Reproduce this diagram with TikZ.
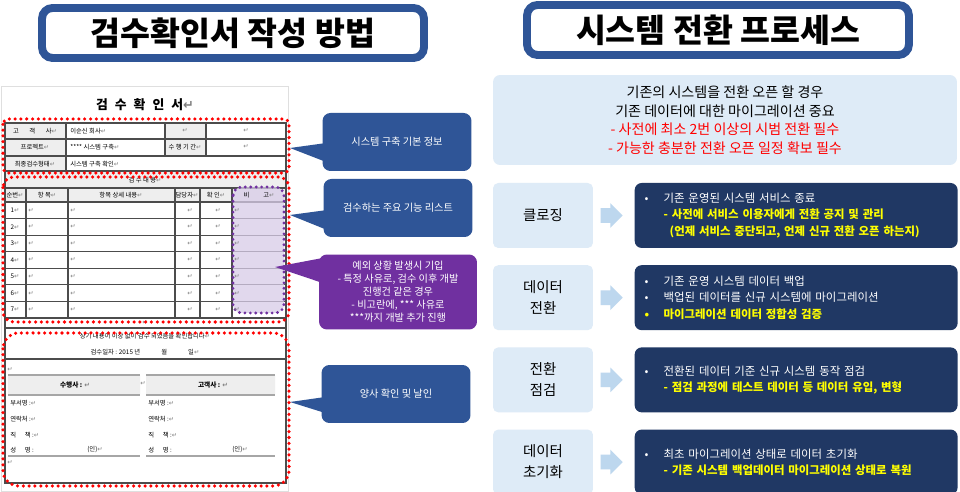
\documentclass[tikz,border=0pt]{standalone}
\usepackage{fontspec}
\setmainfont{Noto Sans CJK KR}
\newfontfamily\arrowfont{DejaVu Sans}
\usetikzlibrary{shapes.arrows,positioning,calc}

\definecolor{titleblue}{RGB}{47,85,151}
\definecolor{calloutblue}{RGB}{47,85,151}
\definecolor{navy}{RGB}{32,56,100}
\definecolor{paleblue}{RGB}{222,235,247}
\definecolor{arrowblue}{RGB}{189,215,238}
\definecolor{notepurple}{RGB}{112,48,160}
\definecolor{lavender}{RGB}{216,204,232}
\definecolor{cellgray}{RGB}{238,238,238}
\definecolor{hiyellow}{RGB}{255,255,0}

\newcommand{\crmark}{{\arrowfont\color{gray}↵}}

\begin{document}
\begin{tikzpicture}[x=0.02cm, y=-0.02cm,
    titlebox/.style={draw=titleblue, line width=4.5pt, rounded corners=6pt, fill=white,
      minimum width=7.64cm, minimum height=1cm, font=\fontsize{18.5}{20}\selectfont\bfseries},
    grid/.style={draw=gray!60!black, line width=0.6pt},
    sigline/.style={draw=gray!70, line width=1.2pt},
    formtxt/.style={font=\fontsize{3.6}{4.5}\selectfont, inner sep=0pt},
    reddots/.style={draw=red, line width=2pt, dash pattern=on 0pt off 3.3pt, line cap=round},
    purpledots/.style={draw=notepurple, line width=1.8pt, dash pattern=on 0pt off 3.1pt, line cap=round},
    callout/.style={fill=calloutblue, rounded corners=4.5pt, text=white,
      font=\fontsize{5.8}{7.4}\selectfont, align=center, minimum width=2.98cm, minimum height=1.16cm},
    intro/.style={fill=paleblue, rounded corners=4pt, minimum width=9.28cm, minimum height=1.8cm,
      align=center, font=\fontsize{8}{10.6}\selectfont},
    stepbox/.style={fill=paleblue, rounded corners=3pt, minimum width=2cm, minimum height=1.3cm,
      font=\fontsize{8.2}{12}\selectfont, align=center},
    detail/.style={fill=navy, rounded corners=4pt, minimum width=6.46cm, minimum height=1.3cm,
      text width=6.06cm, inner xsep=0.2cm, align=left, text=white, font=\fontsize{6.5}{9.2}\selectfont},
    flowarrow/.style={single arrow, fill=arrowblue, draw=none, inner xsep=0pt, inner ysep=0.14cm,
      minimum height=0.44cm, single arrow head extend=0.1cm, single arrow head indent=0pt},
  ]
\useasboundingbox (0,0) rectangle (960,492);
\fill[white] (0,0) rectangle (960,492);

% Titles
\node[titlebox] (docTitle) at (233,33) {검수확인서 작성 방법};
\node[titlebox] (procTitle) at (718,30) {시스템 전환 프로세스};

% Acceptance form (scan)
\draw[gray!25] (1,86) rectangle (288,491);
\node[formtxt, font=\fontsize{7.3}{9}\selectfont\bfseries] (formTitle) at (145,105)
  {검\hspace{4pt}수\hspace{4pt}확\hspace{4pt}인\hspace{4pt}서\crmark};

\fill[cellgray] (5,123) rectangle (66,171) (165,123) rectangle (206,156);
\fill[cellgray] (5,171) rectangle (286,202);
\draw[grid] (5,123) rectangle (286,483);
\draw[grid] (5,139) -- (286,139) (5,156) -- (286,156) (5,171) -- (286,171);
\draw[grid] (66,123) -- (66,171) (165,123) -- (165,156) (206,123) -- (206,156);

\node[formtxt] (custLbl) at (35,131) {고\hspace{6pt}객\hspace{6pt}사\crmark};
\node[formtxt, anchor=west] (custName) at (70,131) {이순신 회사\crmark};
\node[formtxt] (blankA) at (185,131) {\crmark};
\node[formtxt] (blankB) at (246,131) {\crmark};
\node[formtxt] (projLbl) at (35,147) {프로젝트\crmark};
\node[formtxt, anchor=west] (projName) at (70,147) {**** 시스템 구축\crmark};
\node[formtxt] (periodLbl) at (185,147) {수 행 기 간\crmark};
\node[formtxt] (blankC) at (246,147) {\crmark};
\node[formtxt] (typeLbl) at (35,164) {최종검수형태\crmark};
\node[formtxt, anchor=west] (typeName) at (70,164) {시스템 구축 확인\crmark};

% item list
\draw[grid] (5,188) -- (286,188) (5,202) -- (286,202) (5,318) -- (286,318);
\foreach \k in {1,...,6}
  \draw[grid] (5,{202+16.57*\k}) -- (286,{202+16.57*\k});
\foreach \cx in {26,68,175,200,232}
  \draw[grid] (\cx,188) -- (\cx,318);
\draw[purpledots, fill=lavender, fill opacity=0.75, rounded corners=5pt] (233,187) rectangle (284,313);

\node[formtxt] (itemsHead) at (145,180) {검 수 내 용\crmark};
\node[formtxt] (hNo) at (15,195) {순번\crmark};
\node[formtxt] (hItem) at (47,195) {항 목\crmark};
\node[formtxt] (hDetail) at (121,195) {항목 상세 내용\crmark};
\node[formtxt] (hOwner) at (187,195) {담당자\crmark};
\node[formtxt] (hCheck) at (216,195) {확 인\crmark};
\node[formtxt] (hNote) at (259,195) {비\hspace{8pt}고\crmark};
\foreach \n in {1,...,7} {
  \node[formtxt] (no\n) at (15,{202+16.57*(\n-0.5)}) {\n\crmark};
  \node[formtxt] (item\n) at (31,{202+16.57*(\n-0.5)}) {\crmark};
  \node[formtxt] (detail\n) at (73,{202+16.57*(\n-0.5)}) {\crmark};
  \node[formtxt] (owner\n) at (190,{202+16.57*(\n-0.5)}) {\crmark};
  \node[formtxt] (check\n) at (218,{202+16.57*(\n-0.5)}) {\crmark};
  \node[formtxt] (note\n) at (237,{202+16.57*(\n-0.5)}) {\crmark};
}

% sign-off part
\node[formtxt] (gapMark) at (145,323) {\crmark};
\draw[grid] (5,328) -- (286,328) (5,359) -- (286,359);
\node[formtxt] (confirmTxt) at (145,336) {상기 내용이 이상 없이 검수 되었음을 확인합니다\crmark};
\node[formtxt] (dateTxt) at (145,352) {검수일자 : 2015 년\hspace{12pt}월\hspace{12pt}일\crmark};
\node[formtxt] (signGap) at (10,370) {\crmark};
\node[formtxt] (signEnd) at (10,463) {\crmark};

\fill[cellgray] (8,376) rectangle (140,394) (146,376) rectangle (275,394);
\draw[sigline] (8,375) -- (140,375) (8,395) -- (140,395) (8,456) -- (140,456);
\draw[sigline] (146,375) -- (275,375) (146,395) -- (275,395) (146,456) -- (275,456);
\node[formtxt, font=\fontsize{3.8}{4.5}\selectfont\bfseries] (vendorLbl) at (75,385) {수행사 : \crmark};
\node[formtxt, font=\fontsize{3.8}{4.5}\selectfont\bfseries] (clientLbl) at (213,385) {고객사 : \crmark};
\node[formtxt] (midMark) at (143,384) {\crmark};
\foreach \sx/\side in {10/v,148/c} {
  \node[formtxt, anchor=west] (dept\side) at (\sx,403) {부서명 :\crmark};
  \node[formtxt, anchor=west] (tel\side) at (\sx,419) {연락처 :\crmark};
  \node[formtxt, anchor=west] (pos\side) at (\sx,435) {직\hspace{5pt}책 :\crmark};
  \node[formtxt, anchor=west] (name\side) at (\sx,450) {성\hspace{5pt}명 :};
}
\node[formtxt] (sealV) at (95,450) {(인)\crmark};
\node[formtxt] (sealC) at (240,450) {(인)\crmark};

% highlighted regions
\draw[reddots, rounded corners=3pt] (3,119) rectangle (289,173);
\draw[reddots, rounded corners=6pt] (3,177) rectangle (289,322);
\draw[reddots, rounded corners=9pt] (3,333) rectangle (289,486);

% Callouts
\node[callout] (basicInfo) at (397,142) {시스템 구축 기본 정보};
\coordinate (basicTip) at (290,148);
\fill[calloutblue] (basicTip) -- ($(basicInfo.west)+(4,1)$) -- ($(basicInfo.west)+(4,20)$) -- cycle;

\node[callout] (featureList) at (398,208) {검수하는 주요 기능 리스트};
\coordinate (featureTip) at (290,215);
\fill[calloutblue] (featureTip) -- ($(featureList.west)+(4,2)$) -- ($(featureList.west)+(4,22)$) -- cycle;

\node[callout, fill=notepurple, minimum width=3.16cm, minimum height=1.5cm] (noteInfo) at (398,292) {예외 상황 발생시 기입\\- 특정 사유로, 검수 이후 개발\\진행건 같은 경우\\- 비고란에, *** 사유로\\***까지 개발 추가 진행};
\coordinate (noteTip) at (275,267);
\fill[notepurple] (noteTip) -- ($(noteInfo.west)+(4,-34)$) -- ($(noteInfo.west)+(4,-9)$) -- cycle;

\node[callout] (signInfo) at (396,394) {양사 확인 및 날인};
\coordinate (signTip) at (290,402);
\fill[calloutblue] (signTip) -- ($(signInfo.west)+(4,3)$) -- ($(signInfo.west)+(4,19)$) -- cycle;

% Migration process
\node[intro] (intro) at (725,120) {기존의 시스템을 전환 오픈 할 경우\\
  기존 데이터에 대한 마이그레이션 중요\\
  \textcolor{red}{- 사전에 최소 2번 이상의 시범 전환 필수}\\
  \textcolor{red}{- 가능한 충분한 전환 오픈 일정 확보 필수}};

\node[stepbox] (closing) at (543,215.5) {클로징};
\node[stepbox, below=0.33cm of closing] (dataMove) {데이터\\전환};
\node[stepbox, below=0.33cm of dataMove] (checkStep) {전환\\점검};
\node[stepbox, below=0.33cm of checkStep] (resetStep) {데이터\\초기화};

\foreach \s in {closing,dataMove,checkStep,resetStep}
  \node[flowarrow, right=0.14cm of \s] (arrow-\s) {};

\node[detail, right=0.82cm of closing] (closingInfo) {%
  \makebox[0.38cm][l]{•}기존 운영된 시스템 서비스 종료\\
  \hspace*{0.38cm}\textcolor{hiyellow}{\bfseries - 사전에 서비스 이용자에게 전환 공지 및 관리}\\
  \hspace*{0.5cm}\textcolor{hiyellow}{\bfseries (언제 서비스 중단되고, 언제 신규 전환 오픈 하는지)}};
\node[detail, right=0.82cm of dataMove] (dataMoveInfo) {%
  \makebox[0.38cm][l]{•}기존 운영 시스템 데이터 백업\\
  \makebox[0.38cm][l]{•}백업된 데이터를 신규 시스템에 마이그레이션\\
  \textcolor{hiyellow}{\bfseries\makebox[0.38cm][l]{•}마이그레이션 데이터 정합성 검증}};
\node[detail, right=0.82cm of checkStep] (checkInfo) {%
  \makebox[0.38cm][l]{•}전환된 데이터 기준 신규 시스템 동작 점검\\
  \hspace*{0.38cm}\textcolor{hiyellow}{\bfseries - 점검 과정에 테스트 데이터 등 데이터 유입, 변형}};
\node[detail, right=0.82cm of resetStep] (resetInfo) {%
  \makebox[0.38cm][l]{•}최초 마이그레이션 상태로 데이터 초기화\\
  \hspace*{0.38cm}\textcolor{hiyellow}{\bfseries - 기존 시스템 백업데이터 마이그레이션 상태로 복원}};
\end{tikzpicture}
\end{document}
